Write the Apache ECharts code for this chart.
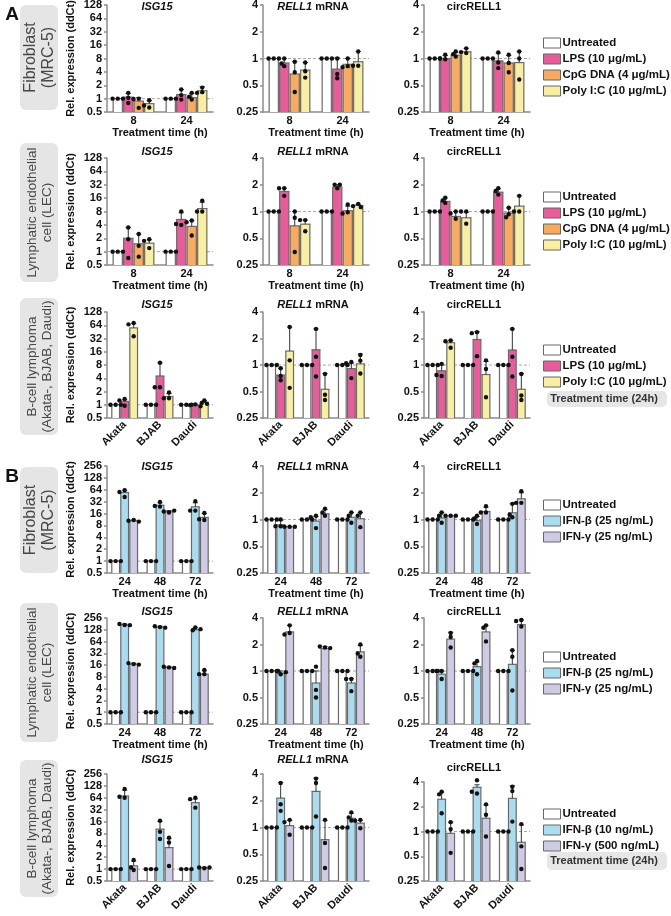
<!DOCTYPE html>
<html><head><meta charset="utf-8">
<script src="https://cdn.jsdelivr.net/npm/echarts@6/dist/echarts.min.js"></script>
<style>html,body{margin:0;padding:0;background:#fff}#c{width:671px;height:916px}</style>
</head><body><div id="c"></div>
<script>
// ---------- categories / labels ----------
const timesA = ['8', '24'];
const timesB = ['24', '48', '72'];
const cellLines = ['Akata', 'BJAB', 'Daudi'];
const seriesA = ['Untreated', 'LPS (10 μg/mL)', 'CpG DNA (4 μg/mL)', 'Poly I:C (10 μg/mL)'];
const seriesA3 = ['Untreated', 'LPS (10 μg/mL)', 'Poly I:C (10 μg/mL)'];
const seriesB12 = ['Untreated', 'IFN-β (25 ng/mL)', 'IFN-γ (25 ng/mL)'];
const seriesB3 = ['Untreated', 'IFN-β (10 ng/mL)', 'IFN-γ (500 ng/mL)'];
const rangeIsgA = [0.5, 128];
const rangeIsgB = [0.5, 256];
const rangeRell = [0.25, 4];
const rowLabels = ['Fibroblast\n(MRC-5)', 'Lymphatic endothelial\ncell (LEC)', 'B-cell lymphoma\n(Akata-, BJAB, Daudi)',
                   'Fibroblast\n(MRC-5)', 'Lymphatic endothelial\ncell (LEC)', 'B-cell lymphoma\n(Akata-, BJAB, Daudi)'];
const xNameTime = 'Treatment time (h)';
const yNameExpr = 'Rel. expression (ddCt)';
const note24h = 'Treatment time (24h)';

// ---------- values: each row = [bar mean, error-bar top, rep1, rep2, rep3], group-major ----------
const a1Isg = [[1,1,1,1,1],[1.08,1.3,1.35,0.8,1.05],[0.88,1.05,1.0,0.62,0.98],[0.77,0.9,0.92,0.63,0.7],
               [1,1,1,1,1],[1.23,1.6,1.6,0.95,1.2],[1.05,1.3,1.35,0.95,1.1],[1.5,1.85,1.77,1.4,1.35]];
const a1Rell = [[1,1,1,1,1],[0.89,1.0,1.0,0.82,0.88],[0.67,0.92,0.92,0.42,0.7],[0.74,0.9,0.9,0.61,0.72],
                [1,1,1,1,1],[0.76,1.02,1.0,0.67,0.6],[0.86,1.0,1.0,0.82,0.8],[0.92,1.2,1.2,0.83,0.83]];
const a1Circ = [[1,1,1,1,1],[1.0,1.08,1.1,0.98,1.0],[1.09,1.18,1.2,1.05,1.12],[1.19,1.3,1.3,1.15,1.18],
                [1,1,1,1,1],[0.94,1.15,1.17,0.9,0.78],[0.89,1.08,1.1,0.89,0.7],[0.9,1.2,1.2,0.58,1.0]];
const a2Isg = [[1,1,1,1,1],[2.0,3.5,3.5,0.72,1.9],[1.5,2.5,2.5,0.77,1.35],[1.55,1.85,1.9,1.75,1.2],
               [1,1,1,1,1],[5.3,7.5,8.0,4.0,4.2],[3.7,5.0,5.0,4.6,2.3],[9.3,13,14,8.0,8.0]];
const a2Rell = [[1,1,1,1,1],[1.68,1.83,1.83,1.83,1.5],[0.69,1.0,1.0,0.85,0.35],[0.72,0.8,0.8,0.8,0.6],
                [1,1,1,1,1],[1.88,2.0,1.83,2.0,2.0],[1.02,1.15,1.2,0.98,0.95],[1.17,1.2,1.22,1.15,1.12]];
const a2Circ = [[1,1,1,1,1],[1.3,1.42,1.43,1.25,1.33],[0.88,1.0,1.0,0.95,0.83],[0.85,0.98,1.0,1.0,0.73],
                [1,1,1,1,1],[1.65,1.8,1.83,1.55,1.7],[0.96,1.1,1.1,0.93,0.86],[1.15,1.5,1.5,1.0,1.0]];
const a3Isg = [[1,1,1,1,1],[1.19,1.3,1.35,1.25,0.95],[55.7,70,72,67,36],
               [1,1,1,1,1],[4.5,9,9,2.5,2.5],[1.54,1.8,1.9,1.4,1.4],
               [1,1,1,1,1],[0.97,1.03,1.02,0.98,0.92],[1.13,1.25,1.25,1.1,1.05]];
const a3Rell = [[1,1,1,1,1],[0.77,0.92,0.92,0.75,0.67],[1.44,2.7,2.7,1.13,0.55],
                [1,1,1,1,1],[1.49,2.57,2.57,1.24,0.74],[0.53,0.8,0.79,0.46,0.4],
                [1,1,1,1,1],[0.91,1.05,1.08,1.05,0.71],[1.03,1.33,1.3,1.12,0.8]];
const a3Circ = [[1,1,1,1,1],[0.86,1.0,1.03,0.75,0.77],[1.79,1.9,1.9,1.86,1.57],
                [1,1,1,1,1],[1.95,2.4,2.36,2.3,1.26],[0.78,1.1,1.13,0.9,0.43],
                [1,1,1,1,1],[1.48,2.57,2.57,1.24,0.74],[0.53,0.8,0.79,0.45,0.4]];
const b1Isg = [[1,1,1,1,1],[54.5,62,62,56,42],[10.5,11,11,10.5,10],
               [1,1,1,1,1],[26,30,31.6,24,25],[17.8,19,17,18,19],
               [1,1,1,1,1],[23.7,30,33,19,19],[12.8,16,16.5,11,11.5]];
const b1Rell = [[1,1,1,1,1],[0.87,0.98,1.0,0.84,0.84],[0.83,0.83,0.83,0.83,0.83],
                [1,1,1,1,1],[0.96,1.08,1.1,0.8,1.06],[1.16,1.3,1.32,1.1,1.2],
                [1,1,1,1,1],[1.06,1.2,1.2,1.1,0.92],[1.02,1.2,1.2,1.1,0.82]];
const b1Circ = [[1,1,1,1,1],[1.04,1.2,1.2,1.1,0.92],[1.1,1.1,1.1,1.1,1.1],
                [1,1,1,1,1],[0.97,1.08,1.1,1.03,0.89],[1.23,1.38,1.41,1.2,1.2],
                [1,1,1,1,1],[1.19,1.5,1.5,1.06,1.13],[1.71,2.0,2.08,1.54,1.54]];
const b2Isg = [[1,1,1,1,1],[171,180,170,180,168],[16.9,18,17,18,16.5],
               [1,1,1,1,1],[149,158,150,158,145],[13.9,14.5,14,14.5,13.5],
               [1,1,1,1,1],[128,145,147,125,133],[9.4,11.5,12,9.4,9.4]];
const b2Rell = [[1,1,1,1,1],[0.94,1.0,0.92,1.0,0.97],[2.78,3.3,3.3,2.7,2.6],
                [1,1,1,1,1],[0.73,1.0,1.12,0.61,0.5],[1.8,1.9,1.85,1.9,1.82],
                [1,1,1,1,1],[0.73,0.82,0.81,0.81,0.59],[1.65,1.95,2.0,1.45,1.58]];
const b2Circ = [[1,1,1,1,1],[0.92,1.0,1.0,1.0,0.81],[2.3,2.75,2.7,2.43,1.85],
                [1,1,1,1,1],[1.12,1.27,1.3,1.22,0.92],[2.78,3.3,3.3,3.1,2.17],
                [1,1,1,1,1],[1.19,1.72,1.72,1.45,0.6],[3.36,3.8,3.8,3.7,3.2]];
const b3Isg = [[1,1,1,1,1],[71,100,107,64,68],[1.21,1.6,1.7,0.95,1.1],
               [1,1,1,1,1],[10.3,16,16.7,8.8,5.8],[3.5,6,6.2,4.7,1.2],
               [1,1,1,1,1],[48,60,64,59,36],[1.08,1.12,1.05,1.1,1.1]];
const b3Rell = [[1,1,1,1,1],[2.14,3.2,3.17,1.83,1.54],[1.05,1.2,1.22,1.15,0.83],
                [1,1,1,1,1],[2.55,3.6,3.55,3.17,1.33],[0.73,1.2,1.22,0.67,0.35],
                [1,1,1,1,1],[1.27,1.45,1.2,1.3,1.48],[1.12,1.2,1.22,1.19,0.98]];
const b3Circ = [[1,1,1,1,1],[2.47,3.0,3.05,2.83,1.67],[0.95,1.3,1.3,1.07,0.55],
                [1,1,1,1,1],[3.45,3.7,4.2,2.9,3.05],[1.45,2.1,2.14,1.6,0.87],
                [1,1,1,1,1],[2.53,3.6,3.5,3.1,1.32],[0.74,1.2,1.23,0.66,0.35]];

// ---------- styles ----------
const FONT = '"Liberation Sans", Arial, Helvetica, sans-serif';
const colorOf = {
  'Untreated': '#ffffff',
  'LPS (10 μg/mL)': '#e85c9b',
  'CpG DNA (4 μg/mL)': '#f6ab5e',
  'Poly I:C (10 μg/mL)': '#f9efa2',
  'IFN-β (25 ng/mL)': '#aadcf0',
  'IFN-γ (25 ng/mL)': '#cfcbe5',
  'IFN-β (10 ng/mL)': '#aadcf0',
  'IFN-γ (500 ng/mL)': '#cfcbe5'
};
const AXIS_C = '#8c8c8c';
const BAR_EDGE = '#6a6a6a';
const rowTop = [5, 158, 312, 466, 618, 774];
const rowBottom = [112, 265, 418, 573, 724, 881];
const colLeft = [107, 263, 424];
const GW = 106;
const titleY = [7, 152, 305, 467, 612, 760];
const titleTexts = ['{i|ISG15}', '{i|RELL1} mRNA', 'circRELL1'];

const panels = [
  {row:0,col:0,cats:timesA,names:seriesA,vals:a1Isg,range:rangeIsgA,xName:xNameTime},
  {row:0,col:1,cats:timesA,names:seriesA,vals:a1Rell,range:rangeRell,xName:xNameTime},
  {row:0,col:2,cats:timesA,names:seriesA,vals:a1Circ,range:rangeRell,xName:xNameTime},
  {row:1,col:0,cats:timesA,names:seriesA,vals:a2Isg,range:rangeIsgA,xName:xNameTime},
  {row:1,col:1,cats:timesA,names:seriesA,vals:a2Rell,range:rangeRell,xName:xNameTime},
  {row:1,col:2,cats:timesA,names:seriesA,vals:a2Circ,range:rangeRell,xName:xNameTime},
  {row:2,col:0,cats:cellLines,names:seriesA3,vals:a3Isg,range:rangeIsgA,rot:true},
  {row:2,col:1,cats:cellLines,names:seriesA3,vals:a3Rell,range:rangeRell,rot:true},
  {row:2,col:2,cats:cellLines,names:seriesA3,vals:a3Circ,range:rangeRell,rot:true},
  {row:3,col:0,cats:timesB,names:seriesB12,vals:b1Isg,range:rangeIsgB,xName:xNameTime},
  {row:3,col:1,cats:timesB,names:seriesB12,vals:b1Rell,range:rangeRell,xName:xNameTime},
  {row:3,col:2,cats:timesB,names:seriesB12,vals:b1Circ,range:rangeRell,xName:xNameTime},
  {row:4,col:0,cats:timesB,names:seriesB12,vals:b2Isg,range:rangeIsgB,xName:xNameTime},
  {row:4,col:1,cats:timesB,names:seriesB12,vals:b2Rell,range:rangeRell,xName:xNameTime},
  {row:4,col:2,cats:timesB,names:seriesB12,vals:b2Circ,range:rangeRell,xName:xNameTime},
  {row:5,col:0,cats:cellLines,names:seriesB3,vals:b3Isg,range:rangeIsgB,rot:true},
  {row:5,col:1,cats:cellLines,names:seriesB3,vals:b3Rell,range:rangeRell,rot:true},
  {row:5,col:2,cats:cellLines,names:seriesB3,vals:b3Circ,range:rangeRell,rot:true,top:782,tY:768}
];

function seg(xa, ya, xb, yb, color, w, z2) {
  return {type:'line', z2:z2, shape:{x1:xa, y1:ya, x2:xb, y2:yb}, style:{stroke:color, lineWidth:w}};
}

function makeRender(p) {
  const nS = p.names.length, nG = p.cats.length;
  const slotFrac = nS === 4 ? 0.198 : 0.255;
  return function (params, api) {
    const cs = params.coordSys;
    const g = api.value(0), s = api.value(1);
    const mean = api.value(2), sd = api.value(3);
    const band = cs.width / nG;
    const slot = band * slotFrac;
    const bw = slot - 1.3;
    const c = api.coord([g, mean]);
    const cx = c[0] + (s - (nS - 1) / 2) * slot;
    const yb = cs.y + cs.height;
    const xl = cx - bw / 2, xr = cx + bw / 2;
    const children = [];
    if (params.dataIndex === 0) {
      const yOne = api.coord([0, 1])[1];
      children.push({type:'line', z2:-5, shape:{x1:cs.x, y1:yOne, x2:cs.x + cs.width, y2:yOne},
        style:{stroke:'#a8a8a8', lineWidth:1, lineDash:[3, 2]}});
    }
    children.push({type:'rect', z2:1, shape:{x:xl, y:c[1], width:bw, height:yb - c[1]},
      style:{fill:colorOf[p.names[s]]}});
    // bar outline
    children.push(seg(xl, yb, xl, c[1], BAR_EDGE, 1.2, 2));
    children.push(seg(xl - 0.6, c[1], xr + 0.6, c[1], BAR_EDGE, 1.2, 2));
    children.push(seg(xr, c[1], xr, yb, BAR_EDGE, 1.2, 2));
    if (sd > mean * 1.01) {
      const ye = api.coord([g, sd])[1];
      children.push(seg(cx, c[1], cx, ye, '#333', 1, 2));
      children.push(seg(cx - 2.6, ye, cx + 2.6, ye, '#333', 1, 2));
    }
    const placed = [];
    const off = 2.6, minD = 3.5;
    for (let k = 4; k <= 6; k++) {
      const y = api.coord([g, api.value(k)])[1];
      let x = cx;
      for (const o of [0, -off, off, -2 * off, 2 * off]) {
        const xx = cx + o;
        if (placed.every(q => Math.hypot(q[0] - xx, q[1] - y) >= minD)) { x = xx; break; }
      }
      placed.push([x, y]);
      children.push({type:'circle', z2:3, shape:{cx:x, cy:y, r:2.2}, style:{fill:'#111'}});
    }
    return {type:'group', children};
  };
}

const option = {
  animation: false,
  backgroundColor: '#fff',
  textStyle: {fontFamily: FONT},
  grid: [], xAxis: [], yAxis: [], series: [], legend: [], graphic: []
};

const labelStyle = {color:'#111', fontWeight:'bold', fontSize:11, fontFamily:FONT};

panels.forEach((p, i) => {
  const top = p.top || rowTop[p.row];
  const bottom = rowBottom[p.row];
  const left = colLeft[p.col];
  option.grid.push({left, top, width:GW, height:bottom - top, containLabel:false, outerBoundsMode:'none'});
  option.xAxis.push({
    gridIndex:i, type:'category', data:p.cats, boundaryGap:true,
    axisLine:{lineStyle:{color:AXIS_C, width:1.5}},
    axisTick:{alignWithLabel:true, length:3, lineStyle:{color:AXIS_C, width:1.5}},
    axisLabel:Object.assign({margin:p.rot ? 5 : 3, rotate:p.rot ? 45 : 0, interval:0}, labelStyle),
    name:p.xName || '', nameLocation:'middle', nameGap:15,
    nameTextStyle:{color:'#111', fontWeight:'bold', fontSize:11, fontFamily:FONT}
  });
  const nDoubling = Math.round(Math.log2(p.range[1] / p.range[0]));
  option.yAxis.push({
    gridIndex:i, type:'log', logBase:2, min:p.range[0], max:p.range[1], interval:1, splitNumber:nDoubling,
    axisLine:{show:true, lineStyle:{color:AXIS_C, width:1.5}},
    axisTick:{show:true, length:3, lineStyle:{color:AXIS_C, width:1.5}},
    splitLine:{show:false},
    axisLabel:Object.assign({margin:5, formatter:v => String(+(+v).toPrecision(6))}, labelStyle),
    name:p.col === 0 ? yNameExpr : '', nameLocation:'middle', nameRotate:90, nameGap:31,
    nameTextStyle:{color:'#111', fontWeight:'bold', fontSize:11, fontFamily:FONT}
  });
  const data = p.vals.map((r, j) => [Math.floor(j / p.names.length), j % p.names.length, r[0], r[1], r[2], r[3], r[4]]);
  option.series.push({type:'custom', name:'panel' + i, xAxisIndex:i, yAxisIndex:i, clip:false, silent:true,
    renderItem:makeRender(p), data, encode:{x:0, y:2}});
  option.graphic.push({type:'text', x:left + GW / 2 - 3, y:p.tY || titleY[p.row], silent:true,
    style:{text:titleTexts[p.col], textAlign:'center', textVerticalAlign:'middle', fill:'#111',
      font:'bold 11px ' + FONT,
      rich:{i:{fontStyle:'italic', fontWeight:'bold', fontSize:11, fontFamily:FONT, fill:'#111'}}}});
});

// legend dummy series
const legendSets = [
  {names:seriesA, top:37}, {names:seriesA, top:191}, {names:seriesA3, top:344},
  {names:seriesB12, top:499}, {names:seriesB12, top:651}, {names:seriesB3, top:808}
];
const allNames = [];
legendSets.forEach(l => l.names.forEach(n => { if (allNames.indexOf(n) < 0) allNames.push(n); }));
allNames.forEach(n => option.series.push({type:'bar', name:n, data:[], xAxisIndex:0, yAxisIndex:0,
  itemStyle:{color:colorOf[n], borderColor:'#666', borderWidth:1}}));
legendSets.forEach(l => option.legend.push({
  orient:'vertical', left:543, top:l.top, itemWidth:17, itemHeight:10, itemGap:4, padding:0,
  selectedMode:false, icon:'rect', data:l.names,
  itemStyle:{borderColor:'#666', borderWidth:1},
  textStyle:{fontSize:11.5, fontWeight:'bold', color:'#111', fontFamily:FONT, padding:[0,0,0,-3]}
}));

// row label boxes
const rowBoxes = [[5,110],[143,282],[298,435],[467,573],[603,742],[760,897]];
const rowFont = [16, 13.5, 13.5, 16, 13.5, 13.5];
rowBoxes.forEach((b, r) => {
  option.graphic.push({type:'rect', silent:true, shape:{x:20, y:b[0], width:38, height:b[1] - b[0], r:6},
    style:{fill:'#e5e5e5'}});
  option.graphic.push({type:'text', silent:true, x:39.5, y:(b[0] + b[1]) / 2, rotation:Math.PI / 2,
    style:{text:rowLabels[r], textAlign:'center', textVerticalAlign:'middle', fill:'#474747',
      font:rowFont[r] + 'px ' + FONT, lineHeight:rowFont[r] + 1.5}});
});
// panel letters
option.graphic.push({type:'text', silent:true, x:12, y:15, style:{text:'A', textAlign:'center', textVerticalAlign:'middle', fill:'#111', font:'bold 19px ' + FONT}});
option.graphic.push({type:'text', silent:true, x:12, y:477, style:{text:'B', textAlign:'center', textVerticalAlign:'middle', fill:'#111', font:'bold 19px ' + FONT}});
// 24h notes
[[391, 407], [852, 870]].forEach(b => {
  option.graphic.push({type:'rect', silent:true, shape:{x:547, y:b[0], width:120, height:b[1] - b[0], r:5}, style:{fill:'#e6e6e6'}});
  option.graphic.push({type:'text', silent:true, x:604, y:(b[0] + b[1]) / 2,
    style:{text:note24h, textAlign:'center', textVerticalAlign:'middle', fill:'#333', font:'bold 11px ' + FONT}});
});

const chart = echarts.init(document.getElementById('c'), null, {renderer:'canvas', width:671, height:916});
chart.setOption(option);
</script></body></html>
